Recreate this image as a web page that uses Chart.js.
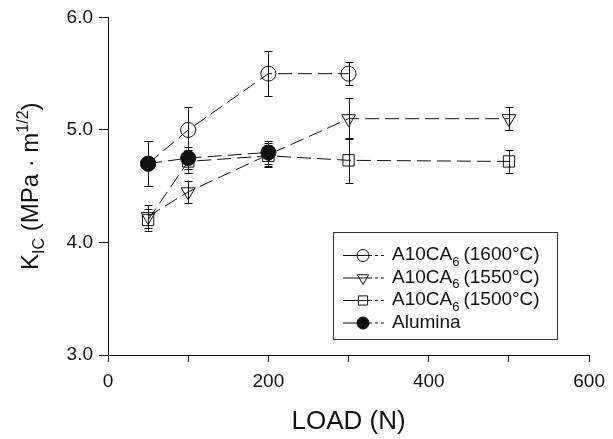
<!DOCTYPE html>
<html>
<head>
<meta charset="utf-8">
<script src="https://cdn.jsdelivr.net/npm/chart.js@4.4.1/dist/chart.umd.min.js"></script>
<style>
  html, body { margin: 0; padding: 0; background: #fff; }
  #wrap { width: 613px; height: 439px; position: relative; }
</style>
</head>
<body>
<div id="wrap"><canvas id="kic"></canvas></div>
<script>
// data
const load1600 = [50, 100, 200, 300];
const kic1600  = [4.7, 5.0, 5.5, 5.5];
const err1600  = [0.2, 0.2, 0.2, 0.1];

const load1550 = [50, 100, 200, 300, 500];
const kic1550  = [4.23, 4.45, 4.78, 5.1, 5.1];
const err1550  = [0.1, 0.1, 0.1, 0.18, 0.1];

const load1500 = [50, 100, 200, 300, 500];
const kic1500  = [4.2, 4.72, 4.77, 4.73, 4.72];
const err1500  = [0.1, 0.1, 0.1, 0.2, 0.1];

const loadAlumina = [50, 100, 200];
const kicAlumina  = [4.7, 4.75, 4.8];
const errAlumina  = [0.2, 0.1, 0.1];

const xTicks = [0, 200, 400, 600];
const yTicks = [3.0, 4.0, 5.0, 6.0];

const FONT = '"Liberation Sans", Arial, Helvetica, sans-serif';
const INK = '#111';

function pts(xs, ys, es) {
    return xs.map((x, i) => ({ x: x, y: ys[i], e: es[i] }));
}

function makeSet(label, data, style, opts) {
    return Object.assign({
        label: label,
        data: data,
        borderColor: INK,
        borderWidth: 1,
        borderDash: [14, 6],
        pointStyle: style,
        pointRadius: 7.5,
        pointBorderColor: INK,
        pointBorderWidth: 1,
        pointBackgroundColor: 'rgba(0,0,0,0)',
        fill: false,
        tension: 0
    }, opts || {});
}

const datasets = [
    makeSet('1600', pts(load1600, kic1600, err1600), 'circle', { order: 3 }),
    makeSet('1550', pts(load1550, kic1550, err1550), 'triangle', { order: 2, pointRotation: 180, pointRadius: 8 }),
    makeSet('1500', pts(load1500, kic1500, err1500), 'rect', { order: 1, pointRadius: 8 }),
    makeSet('Alumina', pts(loadAlumina, kicAlumina, errAlumina), 'circle', { order: 0, pointBackgroundColor: INK })
];

// error bars with small caps
const errorBars = {
    id: 'errorBars',
    beforeDatasetsDraw(chart) {
        const ctx = chart.ctx;
        const xs = chart.scales.x, ys = chart.scales.y;
        ctx.save();
        ctx.strokeStyle = INK;
        ctx.lineWidth = 1;
        chart.data.datasets.forEach(ds => {
            ds.data.forEach(p => {
                const px = Math.round(xs.getPixelForValue(p.x)) + 0.5;
                const top = ys.getPixelForValue(p.y + p.e);
                const bot = ys.getPixelForValue(p.y - p.e);
                ctx.beginPath();
                ctx.moveTo(px, top); ctx.lineTo(px, bot);
                ctx.moveTo(px - 4, Math.round(top) + 0.5); ctx.lineTo(px + 4, Math.round(top) + 0.5);
                ctx.moveTo(px - 4, Math.round(bot) + 0.5); ctx.lineTo(px + 4, Math.round(bot) + 0.5);
                ctx.stroke();
            });
        });
        ctx.restore();
    }
};

// rotated y title with sub/superscript
const yTitle = {
    id: 'yTitle',
    afterDraw(chart) {
        const ctx = chart.ctx;
        const area = chart.chartArea;
        const parts = [
            { t: 'K', size: 24, dy: 0 },
            { t: 'IC', size: 16, dy: 6 },
            { t: ' (MPa \u00b7 m', size: 24, dy: 0 },
            { t: '1/2', size: 16, dy: -10 },
            { t: ')', size: 24, dy: 0 }
        ];
        ctx.save();
        ctx.fillStyle = INK;
        ctx.textBaseline = 'alphabetic';
        let total = 0;
        parts.forEach(p => { ctx.font = p.size + 'px ' + FONT; p.w = ctx.measureText(p.t).width; total += p.w; });
        ctx.translate(38, (area.top + area.bottom) / 2);
        ctx.rotate(-Math.PI / 2);
        let x = -total / 2;
        parts.forEach(p => {
            ctx.font = p.size + 'px ' + FONT;
            ctx.fillText(p.t, x, p.dy);
            x += p.w;
        });
        ctx.restore();
    }
};

// boxed legend, drawn like the original
const legendBox = {
    id: 'legendBox',
    afterDraw(chart) {
        const ctx = chart.ctx;
        const bx = 333, by = 232, bw = 224, bh = 107;
        ctx.save();
        ctx.strokeStyle = '#333';
        ctx.lineWidth = 1;
        ctx.strokeRect(bx + 0.5, by + 0.5, bw, bh);
        const names = ['(1600\u00b0C)', '(1550\u00b0C)', '(1500\u00b0C)', null];
        chart.data.datasets.forEach((ds, i) => {
            const y = by + 23 + i * 22.5;
            ctx.strokeStyle = INK;
            ctx.lineWidth = 1;
            ctx.setLineDash([]);
            ctx.beginPath();
            ctx.moveTo(343, y + 0.5); ctx.lineTo(372, y + 0.5);
            ctx.moveTo(375, y + 0.5); ctx.lineTo(378, y + 0.5);
            ctx.moveTo(381, y + 0.5); ctx.lineTo(384, y + 0.5);
            ctx.stroke();
            ctx.fillStyle = ds.pointBackgroundColor;
            ctx.strokeStyle = INK;
            Chart.helpers.drawPoint(ctx, {
                pointStyle: ds.pointStyle,
                rotation: ds.pointRotation || 0,
                radius: ds.pointRadius - 1.5,
                borderWidth: 1
            }, 363, y + 0.5);
            ctx.fillStyle = INK;
            ctx.textBaseline = 'middle';
            let tx = 392;
            if (names[i]) {
                ctx.font = '19px ' + FONT;
                ctx.fillText('A10CA', tx, y);
                tx += ctx.measureText('A10CA').width;
                ctx.font = '13px ' + FONT;
                ctx.fillText('6', tx, y + 7);
                tx += ctx.measureText('6').width + 4;
                ctx.font = '19px ' + FONT;
                ctx.fillText(names[i], tx, y);
            } else {
                ctx.font = '19px ' + FONT;
                ctx.fillText(ds.label, tx, y);
            }
        });
        ctx.restore();
    }
};

new Chart(document.getElementById('kic'), {
    type: 'line',
    data: { datasets: datasets },
    options: {
        responsive: true,
        maintainAspectRatio: false,
        animation: false,
        layout: { padding: { top: 17, right: 20, left: 0, bottom: 0 } },
        plugins: {
            legend: { display: false },
            tooltip: { enabled: false }
        },
        scales: {
            x: {
                type: 'linear',
                min: 0, max: 600,
                afterFit: s => { s.height = 84; },
                afterBuildTicks: s => { s.ticks = [0, 100, 200, 300, 400, 500, 600].map(v => ({ value: v })); },
                border: { display: true, color: INK, width: 1 },
                grid: { display: true, drawOnChartArea: false, drawTicks: true, tickLength: 7, color: INK },
                ticks: {
                    color: INK,
                    font: { family: FONT, size: 19 },
                    padding: 8,
                    maxRotation: 0,
                    autoSkip: false,
                    callback: v => xTicks.includes(v) ? String(v) : ''
                },
                title: {
                    display: true,
                    text: 'LOAD (N)',
                    color: INK,
                    font: { family: FONT, size: 26 },
                    padding: { top: 4, bottom: 2 }
                }
            },
            y: {
                type: 'linear',
                min: 3, max: 6,
                afterFit: s => { s.width = 108; },
                afterBuildTicks: s => { s.ticks = yTicks.map(v => ({ value: v })); },
                border: { display: true, color: INK, width: 1 },
                grid: { display: true, drawOnChartArea: false, drawTicks: true, tickLength: 9, color: INK },
                ticks: {
                    color: INK,
                    font: { family: FONT, size: 19 },
                    padding: 6,
                    callback: v => Number(v).toFixed(1)
                }
            }
        }
    },
    plugins: [errorBars, yTitle, legendBox]
});
</script>
</body>
</html>
